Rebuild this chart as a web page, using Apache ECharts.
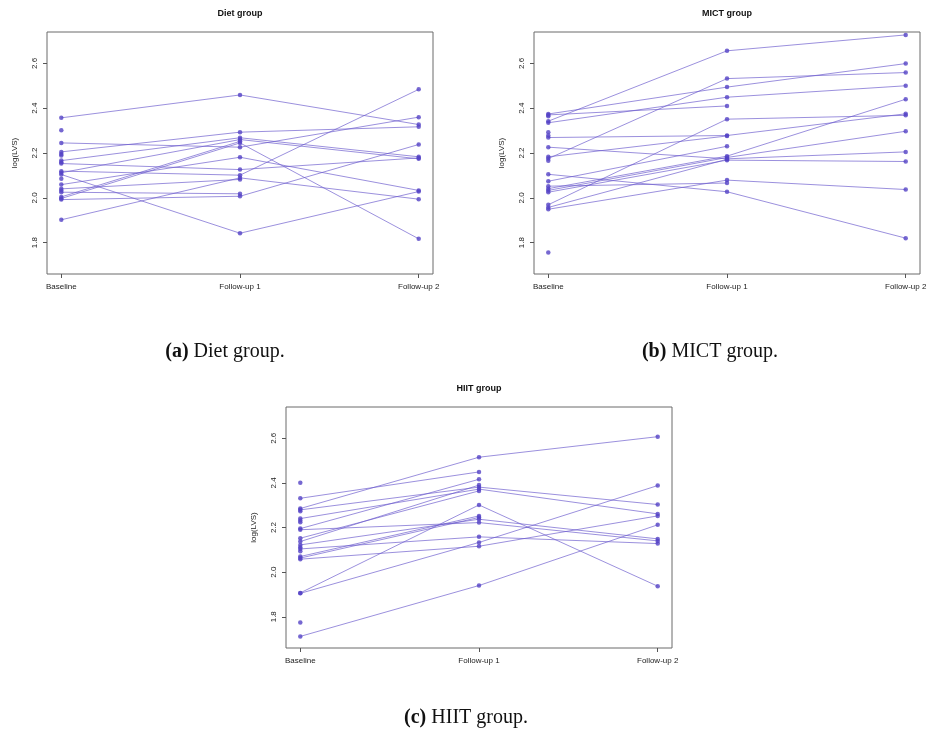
<!DOCTYPE html>
<html>
<head>
<meta charset="utf-8">
<title>log(LVS) by group</title>
<script src="https://cdn.jsdelivr.net/npm/echarts@6/dist/echarts.min.js"></script>
<style>
  html, body { margin: 0; padding: 0; background: #fff; }
  #chart { width: 931px; height: 742px; }
</style>
</head>
<body>
<div id="chart"></div>
<script>
//****** 数据 ******//
var timeLabels = ["Baseline", "Follow-up 1", "Follow-up 2"];
var yTicks = [1.8, 2.0, 2.2, 2.4, 2.6];

// Diet group: one entry per subject, null = missing visit
var dietBaseline = [2.357, 2.302, 2.245, 2.205, 2.166, 2.153, 2.119, 2.104, 2.059, 2.040, 2.025, 2.004, 1.997, 1.992, 1.902, 2.112, 2.196, 2.189, 2.159, 2.085, 2.033];
var dietFollowUp1 = [2.459, null, 2.226, 2.293, 2.268, 2.126, 2.101, 1.842, 2.181, 2.082, 2.018, 2.252, 2.245, 2.007, 2.089, 2.260, null, null, null, null, null];
var dietFollowUp2 = [2.327, null, 2.360, 2.317, 2.183, 2.178, 2.484, 2.028, 2.033, null, null, null, 1.817, 2.238, 1.994, 2.174, null, null, null, null, null];

// MICT group
var mictBaseline = [2.342, 2.374, 2.370, 2.335, 2.175, 2.269, 2.226, 2.183, 2.105, 2.074, 1.969, 2.041, 2.033, 2.025, 1.949, 1.957, 2.052, 2.364, 2.293, 2.278, 2.165, 1.756];
var mictFollowUp1 = [2.656, 2.494, 2.410, 2.449, 2.532, 2.278, 2.174, 2.276, 2.027, 2.230, 2.351, 2.186, 2.180, 2.168, 2.079, 2.172, 2.066, null, null, null, null, null];
var mictFollowUp2 = [2.727, 2.599, null, 2.500, 2.559, 2.375, 2.205, null, 1.820, null, 2.368, 2.440, 2.297, 2.162, 2.037, null, null, null, null, null, null, null];

// HIIT group
var hiitBaseline = [2.285, 2.331, 2.279, 2.240, 2.195, 2.190, 2.152, 2.137, 2.122, 2.104, 2.070, 2.063, 2.058, 1.907, 1.905, 1.712, 2.401, 1.774, 2.273, 2.231, 2.224, 2.112, 2.094];
var hiitFollowUp1 = [2.515, 2.449, 2.381, 2.372, 2.416, 2.222, 2.364, 2.390, 2.237, 2.158, 2.252, 2.245, 2.116, 2.301, 2.133, 1.940, null, null, null, null, null, null, null];
var hiitFollowUp2 = [2.607, null, 2.303, 2.261, null, 2.140, null, null, 2.149, 2.128, null, null, 2.252, 1.937, 2.388, 2.212, null, null, null, null, null, null, null];

//****** 样式 ******//
var pointColor = "#5442c6";
var lineColor = "rgba(106, 90, 205, 0.75)";
var sansFont = "Liberation Sans, Arial, sans-serif";
var serifFont = "Liberation Serif, Times New Roman, serif";

var panels = [
  { title: "Diet group", caption: "(a)", captionText: " Diet group.", b: dietBaseline, f1: dietFollowUp1, f2: dietFollowUp2,
    left: 47, top: 32, width: 386, height: 242, capX: 225, capY: 352 },
  { title: "MICT group", caption: "(b)", captionText: " MICT group.", b: mictBaseline, f1: mictFollowUp1, f2: mictFollowUp2,
    left: 534, top: 32, width: 386, height: 242, capX: 710, capY: 352 },
  { title: "HIIT group", caption: "(c)", captionText: " HIIT group.", b: hiitBaseline, f1: hiitFollowUp1, f2: hiitFollowUp2,
    left: 286, top: 407, width: 386, height: 241, capX: 466, capY: 718 }
];

var grids = [];
var xAxes = [];
var yAxes = [];
var series = [];
var graphics = [];

function val(v) {
  return v === null ? "-" : v;
}

panels.forEach(function (p, k) {
  grids.push({
    left: p.left, top: p.top, width: p.width, height: p.height,
    show: true, borderColor: "#6b6b6b", borderWidth: 1, backgroundColor: "transparent"
  });
  xAxes.push({
    type: "value", gridIndex: k, min: 0.92, max: 3.08,
    axisLine: { show: false },
    axisTick: { show: true, length: 4, lineStyle: { color: "#555" }, customValues: [1, 2, 3] },
    axisLabel: {
      color: "#222", fontSize: 8, fontFamily: sansFont, margin: 9,
      customValues: [1, 2, 3],
      formatter: function (v) { return timeLabels[Math.round(v) - 1]; }
    },
    splitLine: { show: false }
  });
  yAxes.push({
    type: "value", gridIndex: k, min: 1.66, max: 2.74,
    name: "log(LVS)", nameLocation: "middle", nameGap: 28, nameRotate: 90,
    nameTextStyle: { color: "#222", fontSize: 8, fontFamily: sansFont },
    axisLine: { show: false },
    axisTick: { show: true, length: 4, lineStyle: { color: "#555" }, customValues: yTicks },
    axisLabel: {
      color: "#222", fontSize: 8, fontFamily: sansFont, rotate: 90, margin: 8,
      customValues: yTicks,
      formatter: function (v) { return v.toFixed(1); }
    },
    splitLine: { show: false }
  });

  // one line per subject
  for (var i = 0; i < p.b.length; i++) {
    series.push({
      type: "line", xAxisIndex: k, yAxisIndex: k, silent: true,
      symbol: "none", connectNulls: false,
      lineStyle: { color: lineColor, width: 0.9 },
      data: [[1, val(p.b[i])], [2, val(p.f1[i])], [3, val(p.f2[i])]],
      z: 2
    });
  }

  // points
  var pts = [];
  [p.b, p.f1, p.f2].forEach(function (arr, t) {
    arr.forEach(function (v) {
      if (v !== null) pts.push([t + 1, v]);
    });
  });
  series.push({
    type: "scatter", xAxisIndex: k, yAxisIndex: k, silent: true,
    symbol: "circle", symbolSize: 4.5,
    itemStyle: { color: pointColor },
    data: pts, z: 3
  });

  // panel title
  graphics.push({
    type: "text", x: p.left + p.width / 2, y: p.top - 18,
    style: { text: p.title, fill: "#111", font: "bold 9px " + sansFont, textAlign: "center", textVerticalAlign: "middle" }
  });
  // caption below
  graphics.push({
    type: "text", x: p.capX, y: p.capY,
    style: {
      text: "{b|" + p.caption + "}{n|" + p.captionText + "}",
      textAlign: "center", textVerticalAlign: "middle", fill: "#111",
      rich: {
        b: { fontWeight: "bold", fontSize: 20, fontFamily: serifFont, fill: "#111" },
        n: { fontSize: 20, fontFamily: serifFont, fill: "#111" }
      }
    }
  });
});

var chart = echarts.init(document.getElementById("chart"));
chart.setOption({
  animation: false,
  backgroundColor: "#fff",
  grid: grids,
  xAxis: xAxes,
  yAxis: yAxes,
  series: series,
  graphic: graphics
});
</script>
</body>
</html>
